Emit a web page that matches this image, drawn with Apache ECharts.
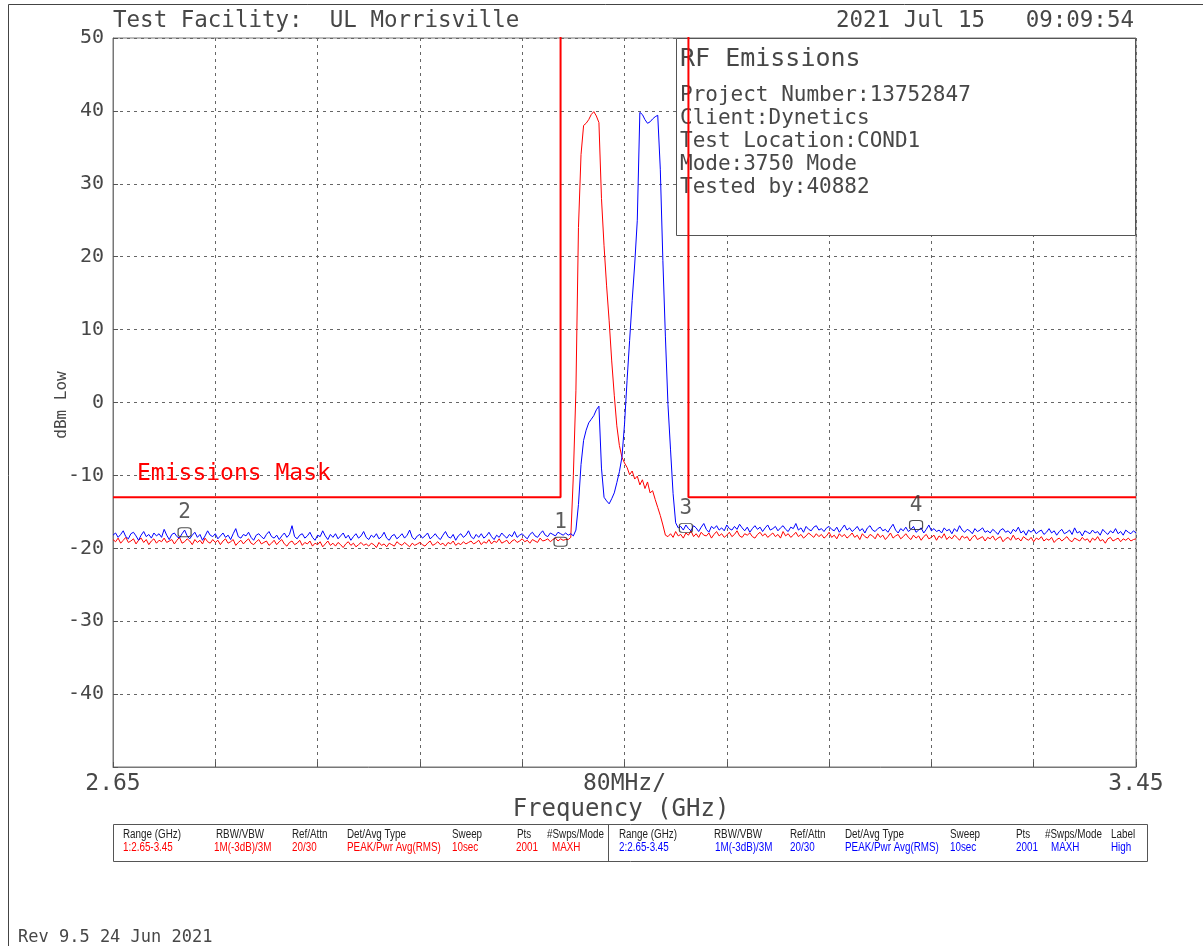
<!DOCTYPE html>
<html>
<head>
<meta charset="utf-8">
<script src="https://cdn.jsdelivr.net/npm/echarts@6/dist/echarts.min.js"></script>
<style>
html,body{margin:0;padding:0;background:#fff;}
#chart{width:1203px;height:946px;}
</style>
</head>
<body>
<div id="chart"></div>
<script>
// ---------------- DATA ----------------
const sweepStepGHz = 0.002;
const axisStartGHz = 2.65;
const axisEndGHz = 3.45;
const divisionMHz = 80;

// Trace 1 (red) segments, values in dBm, 2 MHz apart
const redLeftStartGHz = 2.650;
const redLeft = [
-18.8,-19.1,-18.6,-19.3,-18.9,-18.5,-19.2,-19.0,-18.7,-19.4,-18.9,-18.6,-19.2,-18.8,-19.5,-19.0,-18.7,-19.3,-18.9,-19.1,
-18.6,-19.2,-19.0,-18.8,-19.4,-18.9,-18.5,-19.3,-19.1,-18.7,-19.0,-19.5,-18.8,-19.2,-18.9,-19.4,-18.6,-19.1,-19.3,-18.8,
-19.2,-18.9,-19.5,-19.0,-18.7,-19.3,-19.1,-18.8,-19.6,-19.2,-18.9,-19.4,-19.0,-18.7,-19.3,-19.5,-19.1,-18.8,-19.4,-19.2,
-19.0,-19.6,-19.3,-18.9,-19.5,-19.1,-18.8,-19.4,-19.7,-19.2,-19.0,-19.5,-19.3,-18.9,-19.6,-19.2,-19.4,-19.0,-19.7,-19.3,
-19.5,-19.1,-19.8,-19.4,-19.0,-19.6,-19.3,-19.7,-19.2,-19.5,-19.9,-19.4,-19.1,-19.6,-19.3,-19.8,-19.5,-19.2,-19.6,-19.4,
-19.7,-19.3,-19.5,-19.9,-19.2,-19.6,-19.4,-19.8,-19.3,-19.5,-19.7,-19.1,-19.4,-19.6,-19.2,-19.5,-19.8,-19.3,-19.6,-19.4,
-19.2,-19.5,-19.7,-19.3,-19.0,-19.6,-19.4,-19.1,-19.5,-19.3,-19.7,-19.2,-19.4,-19.0,-19.6,-19.3,-19.5,-19.1,-19.4,-19.2,
-19.0,-19.4,-19.2,-18.9,-19.5,-19.1,-19.3,-18.8,-19.4,-19.0,-19.2,-18.7,-19.3,-19.1,-18.9,-19.4,-19.0,-18.8,-19.2,-19.0,
-18.7,-19.1,-18.9,-19.3,-18.8,-19.0,-19.2,-18.6,-19.0,-18.9,-18.7,-19.1,-18.8,-18.6,-19.0,-18.7,-18.9,-18.8
];
const redBandStartGHz = 3.006;
const redBand = [
-18.8,-18.5,-10.0,1.6,24.0,34.0,38.0,38.3,38.8,39.5,39.9,39.3,38.4,28.0,21.5,16.0,11.2,5.7,1.0,-3.2,
-5.9,-7.5,-8.3,-8.9,-9.9,-9.4,-10.5,-10.1,-11.3,-10.6,-11.8,-10.9,-12.4,-12.1,-13.3,-14.4,-15.5,-16.8,-18.2
];
const redRightStartGHz = 3.084;
const redRight = [
-18.4,-18.0,-18.5,-17.7,-18.3,-18.1,-18.6,-17.9,-18.2,-17.6,-18.4,-18.0,-18.5,-17.8,-18.2,-18.3,-17.9,-18.6,-18.1,-17.7,
-18.3,-18.0,-18.5,-18.2,-17.8,-18.4,-18.1,-17.6,-18.3,-18.5,-18.0,-18.2,-17.9,-18.4,-18.6,-18.1,-17.8,-18.3,-18.0,-18.5,
-18.2,-17.9,-18.4,-18.1,-18.6,-17.7,-18.3,-18.0,-18.5,-18.2,-17.8,-18.4,-18.1,-18.6,-18.3,-17.9,-18.2,-18.5,-18.0,-18.4,
-18.1,-18.6,-18.3,-17.8,-18.5,-18.2,-18.7,-18.0,-18.4,-18.1,-18.6,-18.3,-17.9,-18.5,-18.2,-18.8,-18.0,-18.4,-18.6,-18.1,
-18.3,-18.7,-18.0,-18.5,-18.2,-18.8,-18.4,-17.9,-18.6,-18.3,-18.1,-18.7,-18.4,-18.0,-18.5,-18.8,-18.2,-18.6,-18.3,-18.9,
-18.4,-18.1,-18.7,-18.5,-18.2,-18.9,-18.3,-18.6,-18.0,-18.8,-18.4,-18.7,-18.2,-18.5,-18.9,-18.3,-18.6,-18.4,-19.0,-18.5,
-18.2,-18.8,-18.6,-18.4,-19.0,-18.5,-18.7,-18.3,-18.9,-18.6,-18.4,-19.1,-18.7,-18.5,-18.9,-18.2,-18.8,-18.6,-19.0,-18.4,
-18.7,-18.9,-18.5,-19.1,-18.6,-18.8,-18.4,-19.0,-18.7,-18.9,-18.5,-19.2,-18.8,-18.6,-19.0,-18.7,-18.4,-18.9,-19.1,-18.6,
-18.8,-19.0,-18.5,-18.9,-18.7,-19.2,-18.6,-18.9,-18.4,-19.0,-18.8,-19.3,-18.7,-18.5,-19.0,-18.8,-18.6,-19.1,-18.7,-18.9,
-18.6,-19.0,-18.8,-18.7
];

// Trace 2 (blue) segments
const blueLeftStartGHz = 2.650;
const blueLeft = [
-18.2,-17.9,-18.5,-18.1,-17.6,-18.4,-18.7,-18.0,-17.8,-18.3,-18.9,-18.2,-17.7,-18.4,-18.1,-18.6,-17.9,-18.3,-18.0,-18.5,
-17.4,-18.2,-18.8,-18.1,-17.9,-18.4,-18.6,-18.0,-17.5,-18.3,-18.7,-18.2,-17.8,-18.5,-18.1,-18.9,-18.3,-17.6,-18.2,-18.4,
-18.0,-18.7,-18.3,-17.9,-18.5,-18.2,-18.8,-18.0,-17.3,-18.4,-18.6,-18.1,-18.3,-17.8,-18.5,-18.9,-18.2,-18.0,-18.4,-18.7,
-18.1,-17.7,-18.4,-18.6,-18.2,-18.8,-18.3,-17.9,-18.5,-18.1,-16.9,-18.4,-18.7,-18.2,-18.0,-18.6,-18.3,-17.8,-18.5,-18.9,
-18.2,-18.4,-17.6,-18.3,-18.8,-18.1,-18.5,-18.0,-18.7,-18.3,-17.9,-18.6,-18.2,-18.9,-18.4,-18.0,-18.6,-18.3,-17.7,-18.5,
-18.8,-18.2,-18.5,-18.0,-18.7,-18.4,-17.8,-18.6,-18.9,-18.3,-18.1,-18.7,-18.4,-18.0,-18.6,-18.2,-17.5,-18.5,-18.8,-18.3,
-18.1,-18.6,-18.3,-17.9,-18.7,-18.4,-18.0,-18.5,-18.8,-18.2,-17.7,-18.4,-18.6,-18.1,-18.9,-18.3,-18.0,-18.5,-18.2,-17.6,
-18.4,-18.7,-18.1,-18.5,-18.0,-18.6,-18.3,-17.8,-18.4,-18.8,-18.2,-18.5,-17.9,-18.3,-18.6,-18.1,-18.4,-17.7,-18.5,-18.2,
-18.0,-18.4,-18.7,-18.1,-17.8,-18.3,-18.5,-18.0,-17.6,-18.2,-18.4,-17.9,-18.1,-18.3,-17.8,-18.0,-18.2,-17.9
];
const blueBandStartGHz = 3.006;
const blueBand = [
-18.2,-18.0,-18.3,-17.5,-14.0,-8.5,-5.2,-3.8,-2.8,-2.3,-1.8,-1.0,-0.5,-9.0,-13.0,-13.5,-13.9,-13.2,-12.4,-11.0,
-9.5,-7.5,-3.0,3.0,8.5,14.0,19.0,25.0,39.8,39.5,38.8,38.3,38.5,38.9,39.2,39.4,32.0,19.5,9.0,-0.3,
-6.5,-12.5,-16.5,-17.2
];
const blueRightStartGHz = 3.094;
const blueRight = [
-17.0,-17.5,-16.8,-17.3,-17.6,-16.9,-17.2,-17.7,-17.1,-16.6,-17.4,-17.8,-17.0,-17.3,-16.9,-17.5,-17.2,-17.6,-16.8,-17.3,
-17.5,-17.0,-17.4,-16.7,-17.2,-17.6,-17.1,-17.8,-17.3,-16.9,-17.4,-17.1,-17.7,-17.2,-16.8,-17.5,-17.3,-17.0,-17.6,-17.2,
-16.9,-17.4,-17.7,-17.1,-17.3,-16.6,-17.5,-17.2,-17.8,-17.0,-17.4,-17.6,-17.1,-16.9,-17.5,-17.3,-17.7,-17.2,-17.0,-17.4,
-17.6,-17.1,-17.8,-17.3,-16.8,-17.5,-17.2,-17.7,-17.4,-17.0,-17.6,-17.3,-17.9,-17.2,-16.9,-17.5,-17.7,-17.3,-17.1,-17.6,
-17.4,-17.8,-17.2,-16.7,-17.5,-17.9,-17.3,-17.6,-17.1,-17.7,-17.4,-17.0,-17.8,-17.5,-17.2,-17.9,-17.4,-16.8,-17.6,-17.3,
-17.7,-17.5,-17.9,-17.2,-17.6,-17.4,-18.0,-17.3,-17.7,-16.9,-17.5,-17.8,-17.4,-17.6,-18.0,-17.3,-17.7,-17.5,-17.2,-17.8,
-17.6,-17.9,-17.4,-17.7,-18.1,-17.5,-17.3,-17.8,-17.6,-18.0,-17.4,-17.7,-17.1,-17.9,-17.6,-18.2,-17.5,-17.8,-17.4,-18.0,
-17.7,-17.5,-18.1,-17.8,-17.3,-17.9,-17.6,-18.2,-17.7,-17.4,-18.0,-17.8,-17.5,-18.1,-17.2,-17.9,-17.7,-18.3,-17.6,-17.8,
-18.0,-17.5,-17.9,-17.7,-18.2,-17.4,-17.8,-18.1,-17.6,-17.9,-17.3,-18.0,-17.7,-18.2,-17.5,-17.8,-18.0,-17.6,-17.9
];

// Emissions mask (GHz, dBm)
const maskFreqsGHz = [2.65, 3.00, 3.00, 3.10, 3.10, 3.45];
const maskLevels   = [-13, -13, 60, 60, -13, -13];

// Markers
const markerFreqsGHz = [3.000, 2.706, 3.098, 3.278];
const markerLevels   = [-19.1, -17.8, -17.2, -16.8];
const markerLabels   = ['1', '2', '3', '4'];

// Axis labels
const yTickValues = [50, 40, 30, 20, 10, 0, -10, -20, -30, -40];
const xTickLabels = {0: '2.65', 400: '80MHz/', 800: '3.45'};

// Texts
const titleText = 'Test Facility:  UL Morrisville';
const dateText = '2021 Jul 15   09:09:54';
const infoTitle = 'RF Emissions';
const infoLines = ['Project Number:13752847', 'Client:Dynetics', 'Test Location:COND1', 'Mode:3750 Mode', 'Tested by:40882'];
const maskName = 'Emissions Mask';
const xAxisName = 'Frequency (GHz)';
const yAxisName = 'dBm Low';
const revText = 'Rev 9.5 24 Jun 2021';
const tableHeadersA = ['Range (GHz)', 'RBW/VBW', 'Ref/Attn', 'Det/Avg Type', 'Sweep', 'Pts', '#Swps/Mode'];
const tableValuesA  = ['1:2.65-3.45', '1M(-3dB)/3M', '20/30', 'PEAK/Pwr Avg(RMS)', '10sec', '2001', 'MAXH'];
const tableHeadersB = ['Range (GHz)', 'RBW/VBW', 'Ref/Attn', 'Det/Avg Type', 'Sweep', 'Pts', '#Swps/Mode', 'Label'];
const tableValuesB  = ['2:2.65-3.45', '1M(-3dB)/3M', '20/30', 'PEAK/Pwr Avg(RMS)', '10sec', '2001', 'MAXH', 'High'];

// ---------------- BUILD ----------------
function toOffsetMHz(fGHz) { return (fGHz - axisStartGHz) * 1000; }
function segment(startGHz, values) {
  return values.map((v, i) => [toOffsetMHz(startGHz + i * sweepStepGHz), v]);
}
const redData = segment(redLeftStartGHz, redLeft)
  .concat(segment(redBandStartGHz, redBand))
  .concat(segment(redRightStartGHz, redRight));
const blueData = segment(blueLeftStartGHz, blueLeft)
  .concat(segment(blueBandStartGHz, blueBand))
  .concat(segment(blueRightStartGHz, blueRight));
const maskData = maskFreqsGHz.map((f, i) => [toOffsetMHz(f), maskLevels[i]]);
const markerData = markerFreqsGHz.map((f, i) => ({value: [toOffsetMHz(f), markerLevels[i]], name: markerLabels[i]}));

const MONO = "'DejaVu Sans Mono', monospace";
const NARROW = "'Liberation Sans Narrow', 'Liberation Sans', 'DejaVu Sans Condensed', sans-serif";
const TXT = '#474747';

function txt(text, x, y, size, opts) {
  opts = opts || {};
  return {
    type: 'text', x: x, y: y, z: opts.z != null ? opts.z : 5, rotation: opts.rotation || 0,
    scaleX: opts.scaleX || 1,
    style: {
      text: text, fill: opts.fill || TXT, fontSize: size, fontFamily: opts.family || MONO,
      align: opts.align || 'left', verticalAlign: 'middle'
    }
  };
}

const graphics = [];
// outer frame
graphics.push({type: 'line', z: 5, shape: {x1: 8.5, y1: 4.5, x2: 1203, y2: 4.5}, style: {stroke: '#444', lineWidth: 1}});
graphics.push({type: 'line', z: 5, shape: {x1: 8.5, y1: 4.5, x2: 8.5, y2: 946}, style: {stroke: '#444', lineWidth: 1}});
// title & date
graphics.push(txt(titleText, 113, 21, 22.5));
graphics.push(txt(dateText, 1134, 21, 22.5, {align: 'right'}));
// info box
graphics.push({type: 'rect', z: 1, shape: {x: 676.5, y: 38.5, width: 459, height: 197}, style: {fill: '#fff', stroke: '#555', lineWidth: 1}});
graphics.push(txt(infoTitle, 680, 59, 25, {z: 1}));
infoLines.forEach((t, i) => graphics.push(txt(t, 680, 96 + i * 23, 21, {z: 1})));
// mask name
graphics.push(txt(maskName, 137, 474, 23, {fill: '#ff0000'}));
// axis names
graphics.push(txt(xAxisName, 621, 810, 24, {align: 'center'}));
graphics.push(txt(yAxisName, 62, 405, 16, {align: 'center', rotation: Math.PI / 2}));
// table
graphics.push({type: 'rect', z: 5, shape: {x: 113.5, y: 824.5, width: 1034, height: 37}, style: {fill: 'none', stroke: '#555', lineWidth: 1}});
graphics.push({type: 'line', z: 5, shape: {x1: 608.5, y1: 824.5, x2: 608.5, y2: 861.5}, style: {stroke: '#555', lineWidth: 1}});
const colHA = [123, 216, 292, 347, 452, 517, 547];
const colVA = [123, 214, 292, 347, 452, 516, 552];
const colHB = [619, 714, 790, 845, 950, 1016, 1045, 1111];
const colVB = [619, 715, 790, 845, 950, 1016, 1051, 1111];
const tOpt = (fill) => ({family: NARROW, fill: fill, scaleX: 0.82});
tableHeadersA.forEach((t, i) => graphics.push(txt(t, colHA[i], 835, 12, tOpt('#222'))));
tableValuesA.forEach((t, i) => graphics.push(txt(t, colVA[i], 848, 12, tOpt('#ff0000'))));
tableHeadersB.forEach((t, i) => graphics.push(txt(t, colHB[i], 835, 12, tOpt('#222'))));
tableValuesB.forEach((t, i) => graphics.push(txt(t, colVB[i], 848, 12, tOpt('#0000ff'))));
// revision
graphics.push(txt(revText, 18, 938, 17));

const chart = echarts.init(document.getElementById('chart'), null, {renderer: 'canvas'});
chart.setOption({
  animation: false,
  backgroundColor: '#fff',
  grid: {left: 113, top: 38, width: 1023, height: 729, show: true, borderColor: '#777', borderWidth: 1, backgroundColor: 'transparent'},
  xAxis: {
    type: 'value', min: 0, max: (axisEndGHz - axisStartGHz) * 1000, interval: divisionMHz,
    axisLine: {show: true, onZero: false, lineStyle: {color: '#777'}},
    axisTick: {show: true, inside: true, length: 5, lineStyle: {color: '#555'}},
    splitLine: {show: true, lineStyle: {color: '#666', type: [3, 4], width: 1}},
    axisLabel: {
      show: true, margin: 6, fontSize: 23, fontFamily: MONO, color: TXT,
      showMinLabel: true, showMaxLabel: true,
      formatter: v => (xTickLabels[Math.round(v)] !== undefined ? xTickLabels[Math.round(v)] : '')
    }
  },
  yAxis: {
    type: 'value', min: -50, max: 50, interval: 10,
    axisLine: {show: true, onZero: false, lineStyle: {color: '#777'}},
    axisTick: {show: true, inside: true, length: 5, lineStyle: {color: '#555'}},
    splitLine: {show: true, lineStyle: {color: '#666', type: [3, 4], width: 1}},
    axisLabel: {
      show: true, margin: 9, fontSize: 20, fontFamily: MONO, color: TXT,
      formatter: v => (yTickValues.indexOf(v) >= 0 ? String(v) : '')
    }
  },
  graphic: graphics,
  series: [
    {type: 'line', name: 'Mask', data: maskData, showSymbol: false, symbol: 'none', z: 4,
     lineStyle: {color: '#ff0000', width: 2}, clip: true},
    {type: 'line', name: 'Trace 1', data: redData, showSymbol: false, symbol: 'none', z: 2,
     lineStyle: {color: '#ff0000', width: 1}, clip: true},
    {type: 'line', name: 'Trace 2', data: blueData, showSymbol: false, symbol: 'none', z: 3,
     lineStyle: {color: '#0000ff', width: 1}, clip: true},
    {type: 'scatter', name: 'Markers', data: markerData, z: 6,
     symbol: 'roundRect', symbolSize: [13, 9],
     itemStyle: {color: 'rgba(0,0,0,0)', borderColor: '#222', borderWidth: 1},
     label: {show: true, position: 'top', distance: 4, formatter: p => p.name,
             fontSize: 21, fontFamily: MONO, color: '#333'}}
  ]
});
</script>
</body>
</html>
